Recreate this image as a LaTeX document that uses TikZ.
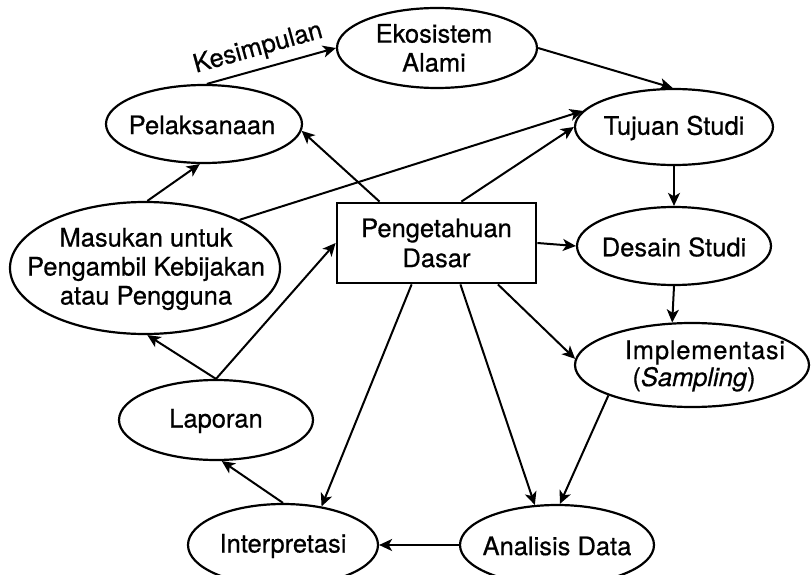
\documentclass[tikz,border=0pt]{standalone}
\usepackage{fontspec}
\setmainfont{TeX Gyre Heros}[FakeBold=0.6]
\usetikzlibrary{shapes.geometric,arrows.meta}
\begin{document}
\begin{tikzpicture}[x=1pt,y=-1pt,
  ell/.style={draw, ellipse, line width=2.2pt, inner sep=0pt},
  txt/.style={font=\fontsize{25.5}{29}\selectfont, align=center, inner sep=0pt},
  box/.style={draw, rectangle, line width=2.8pt, inner sep=0pt, minimum width=199pt, minimum height=80pt,
              font=\fontsize{25.5}{30}\selectfont, align=center},
  arr/.style={line width=2pt, -{Stealth[length=13pt,width=12pt,inset=3.5pt]}}]
\useasboundingbox (0,0) rectangle (811,575);

% ellipses
\node[ell, minimum width=200pt, minimum height=80pt] (eko) at (437,48) {};
\node[ell, minimum width=198pt, minimum height=76pt] (tuj) at (674,127) {};
\node[ell, minimum width=194pt, minimum height=78pt] (des) at (674,246) {};
\node[ell, minimum width=234pt, minimum height=84pt] (imp) at (692,365) {};
\node[ell, minimum width=194pt, minimum height=80pt] (ana) at (557,545) {};
\node[ell, minimum width=190pt, minimum height=82pt] (int) at (283,545) {};
\node[ell, minimum width=194pt, minimum height=80pt] (lap) at (216,420) {};
\node[ell, minimum width=270pt, minimum height=132pt] (mas) at (145,268) {};
\node[ell, minimum width=196pt, minimum height=78pt] (pel) at (204,124) {};
\node[box] (peng) at (436.5,243) {Pengetahuan\\Dasar};

% texts
\node[txt] (ekoT) at (434,48) {Ekosistem\\Alami};
\node[txt] (tujT) at (674,128) {Tujuan Studi};
\node[txt] (desT) at (674,247) {Desain Studi};
\node[txt] (impT) at (705,366) {{\addfontfeature{LetterSpace=3}Implementasi}\\[-2pt]\hspace*{-22pt}(\textit{Sampling})};
\node[txt] (anaT) at (557,546) {Analisis Data};
\node[txt] (intT) at (283,546) {Interpretasi};
\node[txt] (lapT) at (216,421) {Laporan};
\node[txt] (masT) at (146,269) {Masukan untuk\\Pengambil Kebijakan\\atau Pengguna};
\node[txt] (pelT) at (202,125) {Pelaksanaan};

% connectors
\draw[arr] (pel.86) -- node[txt, sloped, above=7pt, pos=0.44] (kes) {Kesimpulan} (eko.west);
\draw[arr] (eko.east) -- (tuj.92);
\draw[arr] (mas.27) -- (tuj.170);
\draw[arr] (peng.59.6) -- (tuj.west);
\draw[arr] (tuj.south) -- (des.north);
\draw[arr] (peng.east) -- (des.west);
\draw[arr] (des.south) -- (imp.115);
\draw[arr] (peng.326.5) -- (imp.177);
\draw[arr] (peng.300.4) -- (ana.119);
\draw[arr] (imp.200) -- (ana.86);
\draw[arr] (ana.west) -- (int.east);
\draw[arr] (peng.239.6) -- (int.45);
\draw[arr] (int.north) -- (lap.278.5);
\draw[arr] (lap.north) -- (mas.272);
\draw[arr] (lap.north) -- (peng.west);
\draw[arr] (peng.144.7) -- (pel.356);
\draw[arr] (mas.88) -- (pel.264);
\end{tikzpicture}
\end{document}
